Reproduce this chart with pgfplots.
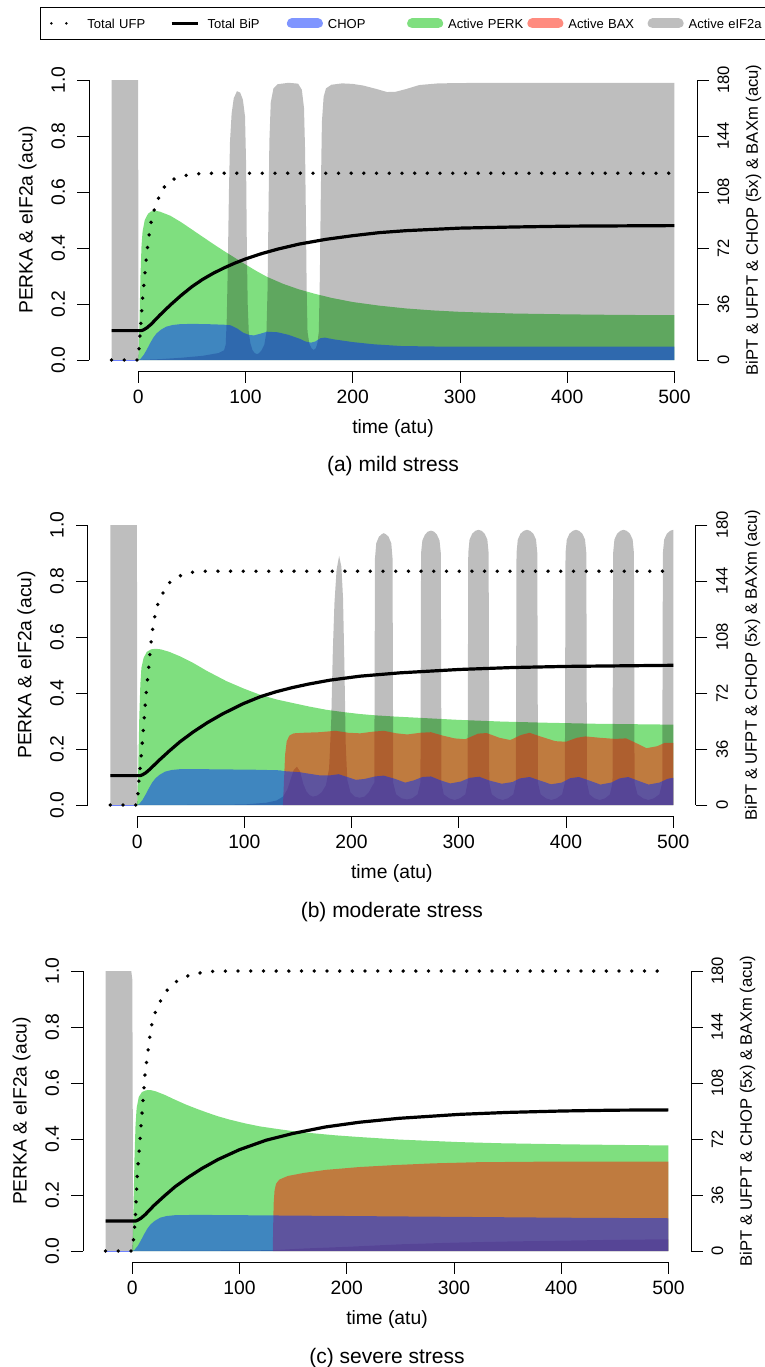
\documentclass[border=0pt]{standalone}
\usepackage{fontspec}
\setmainfont{Liberation Sans}
\usepackage{pgfplots}
\pgfplotsset{compat=1.18}
\definecolor{cperk}{RGB}{0,192,0}
\definecolor{cchop}{RGB}{0,45,255}
\definecolor{cbax}{RGB}{255,25,0}
\definecolor{czero}{RGB}{110,130,255}
\newcommand\tickfont{\fontsize{19.3}{23}\selectfont}
\newcommand\smallfont{\fontsize{16.6}{20}\selectfont}
\newcommand\capfont{\fontsize{21}{25}\selectfont}
\newcommand\legfont{\fontsize{13}{15}\selectfont}

\pgfplotsset{
  rleft/.style={
    scale only axis, width=608pt, height=302.4pt,
    xmin=-46, xmax=521, ymin=-0.04, ymax=1.04,
    axis x line*=bottom, axis y line*=left, axis line style={draw=none},
    clip=false, no marks,
    tick align=outside, major tick length=11.5pt,
    tick style={black, line width=0.9pt},
    xtick={0,100,200,300,400,500}, xticklabels={0,100,200,300,400,500},
    ytick={0,0.2,0.4,0.6,0.8,1}, yticklabels={0.0,0.2,0.4,0.6,0.8,1.0},
    tick label style={font=\tickfont, inner sep=0pt},
    xticklabel style={anchor=north, yshift=-6.7pt},
    yticklabel style={xshift=-12.3pt, rotate=90, anchor=south},
    xlabel={time (atu)}, ylabel={PERKA \& eIF2a (acu)},
    label style={font=\tickfont, inner sep=0pt},
    xlabel style={at={(axis description cs:0.5,-0.2044)}, anchor=base},
    ylabel style={at={(axis description cs:-0.0929,0.5)}, anchor=base},
  },
  rright/.style={
    scale only axis, width=608pt, height=302.4pt,
    xmin=-46, xmax=521, ymin=-7.2, ymax=187.2,
    axis x line=none, axis y line*=right, axis line style={draw=none},
    clip=false, no marks,
    tick align=outside, major tick length=11.5pt,
    tick style={black, line width=0.9pt},
    ytick={0,36,72,108,144,180}, yticklabels={0,36,72,108,144,180},
    yticklabel style={font=\smallfont, inner sep=0pt, xshift=8.7pt, rotate=90, anchor=north},
    ylabel={BiPT \& UFPT \& CHOP (5x) \& BAXm (acu)},
    ylabel style={font=\smallfont, inner sep=0pt, at={(axis description cs:1.1003,0.5)}, anchor=base},
  },
  perk/.style={draw=none, fill=cperk, fill opacity=0.5},
  eif/.style={draw=none, fill=black, fill opacity=0.255},
  bax/.style={draw=none, fill=cbax, fill opacity=0.5},
  chop/.style={draw=none, fill=cchop, fill opacity=0.5},
  ufp/.style={black, line width=3.8pt, line cap=round, dash pattern=on 0pt off 12.7pt},
  bip/.style={black, line width=3.2pt},
  zline/.style={czero, line width=1pt},
}

\begin{document}
\begin{tikzpicture}
\useasboundingbox (0,0) rectangle (765pt,-1367pt);
\clip (0,0) rectangle (765pt,-1367pt);

% ---------------- (a) mild stress ----------------
\begin{axis}[rleft, at={(89pt,-371.2pt)}, anchor=south west,
  legend columns=6,
  legend style={at={(axis description cs:-0.0806,1.2044)}, anchor=north west,
    draw=black, line width=0.8pt, inner xsep=6pt, inner ysep=11pt,
    cells={anchor=west},
    nodes={inner sep=0pt, text width=79.25pt, text height=9.4pt, text depth=0pt, font=\legfont}}]
\addlegendimage{legend image code/.code={\path[draw=none,fill=none] (-5pt,-5pt) rectangle (36pt,5pt);
  \draw[black, line width=2.8pt, line cap=round, dash pattern=on 0pt off 15pt] (0pt,0pt) -- (26pt,0pt);}}
\addlegendimage{legend image code/.code={\path[draw=none,fill=none] (-5pt,-5pt) rectangle (36pt,5pt);
  \draw[black, line width=3pt] (0pt,0pt) -- (26pt,0pt);}}
\addlegendimage{legend image code/.code={\path[draw=none,fill=none] (-5pt,-5pt) rectangle (36pt,5pt);
  \draw[cchop, draw opacity=0.5, line width=10pt, line cap=round] (0pt,0pt) -- (26pt,0pt);}}
\addlegendimage{legend image code/.code={\path[draw=none,fill=none] (-5pt,-5pt) rectangle (36pt,5pt);
  \draw[cperk, draw opacity=0.5, line width=10pt, line cap=round] (0pt,0pt) -- (26pt,0pt);}}
\addlegendimage{legend image code/.code={\path[draw=none,fill=none] (-5pt,-5pt) rectangle (36pt,5pt);
  \draw[cbax, draw opacity=0.5, line width=10pt, line cap=round] (0pt,0pt) -- (26pt,0pt);}}
\addlegendimage{legend image code/.code={\path[draw=none,fill=none] (-5pt,-5pt) rectangle (36pt,5pt);
  \draw[black, draw opacity=0.255, line width=10pt, line cap=round] (0pt,0pt) -- (26pt,0pt);}}
\legend{Total UFP,Total BiP,CHOP,Active PERK,Active BAX,Active eIF2a}

% Active PERK
\addplot[perk] coordinates {(-25,0) (0,0) (1,0.12) (2,0.30) (3,0.41) (4,0.46) (6,0.50) (9,0.522) (12,0.531) (16,0.533) (20,0.530) (30,0.515) (40,0.492) (50,0.466) (60,0.440) (70,0.414) (80,0.389) (90,0.365) (100,0.341) (110,0.318) (120,0.297) (135,0.272) (150,0.252) (165,0.236) (180,0.222) (200,0.207) (225,0.194) (250,0.184) (275,0.177) (300,0.172) (350,0.166) (400,0.163) (450,0.161) (500,0.160) (500,0)} \closedcycle;
% Active eIF2a
\addplot[eif] coordinates {(-25,0) (-25,1) (-0.2,1) (0.2,0) (5,0.001) (20,0.003) (40,0.008) (60,0.015) (75,0.025) (80,0.035) (81.5,0.055) (82.5,0.15) (83.5,0.35) (84.5,0.6) (85.5,0.78) (87,0.88) (89,0.935) (92,0.96) (95,0.955) (97.5,0.93) (99.5,0.87) (100.5,0.7) (101.2,0.4) (102,0.2) (103,0.1) (104.5,0.06) (106.5,0.035) (108.5,0.025) (110.5,0.021) (112.5,0.024) (115,0.035) (117.5,0.055) (119.5,0.1) (120.5,0.25) (121.3,0.5) (122.2,0.78) (123.5,0.92) (126,0.97) (130,0.985) (140,0.99) (149,0.987) (152.5,0.965) (154.5,0.9) (155.5,0.75) (156.3,0.5) (157,0.25) (157.8,0.1) (159.5,0.058) (161.5,0.042) (163.5,0.036) (165.5,0.042) (167,0.06) (168.3,0.1) (169.3,0.3) (170.2,0.6) (171.2,0.85) (172.8,0.94) (175,0.97) (180,0.983) (190,0.988) (200,0.986) (210,0.98) (222,0.968) (232,0.957) (240,0.958) (250,0.968) (262,0.982) (280,0.988) (320,0.99) (500,0.99) (500,0)} \closedcycle;
% CHOP
\addplot[chop] coordinates {(-25,0) (0,0) (2,0.004) (5,0.018) (8,0.038) (11,0.06) (14,0.08) (17,0.095) (21,0.108) (26,0.119) (32,0.125) (39,0.128) (50,0.129) (65,0.128) (80,0.126) (86,0.124) (92,0.113) (98,0.097) (104,0.089) (108,0.088) (114,0.094) (120,0.101) (130,0.099) (140,0.09) (151,0.075) (156,0.066) (161,0.062) (165,0.066) (170,0.078) (174,0.08) (182,0.074) (200,0.064) (220,0.056) (245,0.050) (280,0.048) (350,0.048) (500,0.048) (500,0)} \closedcycle;
\addplot[zline] coordinates {(-25,0) (0,0)};
% Total UFP
\addplot[ufp] coordinates {(-25,0) (0,0) (1,0.06) (2,0.11) (4,0.22) (7,0.345) (9,0.42) (11.5,0.486) (14,0.527) (18,0.571) (23,0.613) (31,0.643) (42,0.658) (55,0.665) (70,0.667) (500,0.667)};
% Total BiP
\addplot[bip] coordinates {(-25,0.105) (3,0.105) (5,0.108) (8,0.115) (12,0.128) (20,0.16) (30,0.197) (40,0.231) (50,0.262) (60,0.288) (70,0.31) (80,0.329) (90,0.346) (100,0.361) (115,0.38) (130,0.396) (150,0.414) (175,0.431) (200,0.444) (225,0.455) (250,0.462) (300,0.471) (350,0.475) (400,0.478) (450,0.479) (500,0.48)};
\draw[line width=0.9pt] (axis cs:0,-0.04) -- (axis cs:500,-0.04);
\draw[line width=0.9pt] (axis cs:-46,0) -- (axis cs:-46,1);
\node[font=\capfont, anchor=base] at (axis description cs:0.5,-0.3333) {(a) mild stress};
\end{axis}
\begin{axis}[rright, at={(89pt,-371.2pt)}, anchor=south west]
\addplot[draw=none] coordinates {(0,0)};
\draw[line width=0.9pt] (axis cs:521,0) -- (axis cs:521,180);
\end{axis}

% ---------------- (b) moderate stress ----------------
\begin{axis}[rleft, at={(87.8pt,-816.2pt)}, anchor=south west]
\addplot[perk] coordinates {(-25,0) (0,0) (1,0.12) (2,0.31) (3,0.43) (4,0.49) (6,0.525) (9,0.547) (13,0.556) (17,0.558) (22,0.556) (30,0.547) (40,0.531) (52,0.508) (65,0.479) (83.5,0.442) (100,0.415) (114.5,0.394) (130,0.377) (145.5,0.364) (160,0.352) (176.6,0.340) (192,0.332) (207.6,0.325) (223,0.320) (240,0.316) (270,0.310) (300,0.304) (340,0.298) (380,0.294) (430,0.290) (500,0.287) (500,0)} \closedcycle;
\addplot[eif] coordinates {(-25,0) (-25,1) (-0.2,1) (0.2,0) (100,0.002) (120,0.008) (130,0.016) (136,0.03) (140,0.055) (143,0.09) (146,0.125) (149,0.137) (152,0.12) (155,0.075) (158,0.048) (161,0.035) (164,0.03) (168,0.034) (172,0.045) (176,0.07) (179,0.13) (181,0.3) (182.5,0.55) (184,0.72) (186,0.84) (188.4,0.89) (190.5,0.85) (192,0.74) (193.3,0.5) (194.5,0.22) (196,0.09) (199,0.045) (203,0.03) (207.5,0.026) (212,0.03) (216,0.045) (219.5,0.07)
 (221.2,0.08) (221.5,0.5) (221.8,0.88) (223,0.935) (225.5,0.958) (228,0.967) (230,0.971) (232,0.967) (234.5,0.958) (237,0.935) (238.2,0.88) (238.5,0.5) (238.8,0.08)
 (241.5,0.038) (246.5,0.024) (251.5,0.02) (256.5,0.024) (261.5,0.038)
 (264.2,0.08) (264.5,0.5) (264.8,0.9) (266,0.945) (268.5,0.966) (271,0.976) (274,0.98) (277,0.976) (279.5,0.966) (282,0.945) (283.2,0.9) (283.5,0.5) (283.8,0.08)
 (286,0.038) (291,0.024) (296,0.018) (301,0.024) (306,0.038)
 (308.2,0.08) (308.5,0.5) (308.8,0.9) (310,0.948) (312.5,0.969) (315.3,0.979) (318.3,0.983) (321.3,0.979) (324.1,0.969) (326.6,0.948) (327.8,0.9) (328.1,0.5) (328.4,0.08)
 (330.8,0.038) (335.8,0.024) (340.8,0.018) (345.8,0.024) (350.8,0.038)
 (353.2,0.08) (353.5,0.5) (353.8,0.9) (355,0.948) (357.5,0.969) (360.5,0.979) (363.5,0.983) (366.5,0.979) (369.5,0.969) (372,0.948) (373.2,0.9) (373.5,0.5) (373.8,0.08)
 (376.3,0.038) (381.3,0.024) (386.3,0.018) (391.3,0.024) (396.3,0.038)
 (398.9,0.08) (399.2,0.5) (399.5,0.9) (400.7,0.948) (403.2,0.969) (406.2,0.979) (409.2,0.983) (412.2,0.979) (415.2,0.969) (417.7,0.948) (418.9,0.9) (419.2,0.5) (419.5,0.08)
 (421.9,0.038) (426.4,0.024) (431.4,0.018) (436.4,0.024) (440.9,0.038)
 (443.3,0.08) (443.6,0.5) (443.9,0.9) (445.1,0.948) (447.6,0.969) (450.6,0.979) (453.6,0.983) (456.6,0.979) (459.6,0.969) (462.1,0.948) (463.3,0.9) (463.6,0.5) (463.9,0.08)
 (466.6,0.038) (471.8,0.024) (476.8,0.018) (481.8,0.024) (487,0.038)
 (489.7,0.08) (490,0.5) (490.3,0.9) (491.5,0.948) (494,0.969) (497,0.979) (500,0.983) (500,0)} \closedcycle;
\addplot[bax] coordinates {(136,0) (137,0.09) (138,0.18) (139.5,0.228) (142,0.248) (146,0.256) (155,0.258) (170,0.26) (185,0.265) (197,0.258) (208,0.256) (220,0.262) (230,0.265) (242,0.256) (252,0.252) (264,0.258) (274,0.26) (285,0.248) (296,0.238) (306,0.235) (318,0.255) (326,0.257) (338,0.24) (348,0.232) (358,0.25) (366,0.258) (376,0.245) (390,0.228) (400,0.226) (410,0.24) (418,0.245) (432,0.24) (446,0.236) (456,0.238) (466,0.22) (475,0.203) (485,0.21) (492,0.222) (500,0.222) (500,0)} \closedcycle;
\addplot[chop] coordinates {(-25,0) (0,0) (2,0.004) (5,0.018) (8,0.038) (11,0.06) (14,0.08) (17,0.095) (21,0.108) (26,0.119) (32,0.125) (40,0.128) (60,0.128) (85,0.127) (110,0.126) (133,0.124) (137,0.121) (145,0.119) (152,0.117) (160,0.112) (170,0.106) (180,0.106) (188,0.11) (196,0.1) (204,0.09) (212,0.093) (222,0.102) (230,0.105) (240,0.094) (250,0.08) (258,0.088) (266,0.1) (274,0.102) (283,0.088) (292,0.077) (302,0.084) (310,0.097) (319,0.101) (328,0.088) (340,0.076) (350,0.082) (357,0.095) (366,0.1) (376,0.087) (386,0.074) (396,0.08) (404,0.096) (412,0.1) (422,0.087) (432,0.073) (442,0.08) (450,0.095) (458,0.1) (467,0.087) (477,0.073) (487,0.08) (495,0.094) (500,0.097) (500,0)} \closedcycle;
\addplot[zline] coordinates {(-25,0) (0,0)};
\addplot[ufp] coordinates {(-25,0) (0,0) (0.5,0.03) (2,0.10) (4.4,0.203) (6.5,0.305) (8.4,0.40) (10.6,0.484) (12.7,0.573) (15,0.645) (18.3,0.708) (23,0.749) (28.2,0.788) (37.5,0.815) (48.7,0.83) (60,0.835) (500,0.835)};
\addplot[bip] coordinates {(-25,0.105) (3,0.105) (5,0.108) (8,0.115) (12,0.128) (20,0.158) (30,0.193) (40,0.226) (52,0.26) (65,0.293) (80,0.326) (99,0.362) (115,0.387) (130,0.405) (145.5,0.42) (160,0.432) (180,0.446) (207.6,0.46) (245,0.472) (300,0.484) (350,0.491) (400,0.495) (450,0.497) (500,0.499)};
\draw[line width=0.9pt] (axis cs:0,-0.04) -- (axis cs:500,-0.04);
\draw[line width=0.9pt] (axis cs:-46,0) -- (axis cs:-46,1);
\node[font=\capfont, anchor=base] at (axis description cs:0.5,-0.3333) {(b) moderate stress};
\end{axis}
\begin{axis}[rright, at={(87.8pt,-816.2pt)}, anchor=south west]
\addplot[draw=none] coordinates {(0,0)};
\draw[line width=0.9pt] (axis cs:521,0) -- (axis cs:521,180);
\end{axis}

% ---------------- (c) severe stress ----------------
\begin{axis}[rleft, at={(83pt,-1262.2pt)}, anchor=south west]
\addplot[perk] coordinates {(-25,0) (0,0) (1,0.13) (2,0.33) (3,0.45) (4,0.51) (6,0.55) (9,0.568) (13,0.574) (17,0.575) (22,0.570) (30,0.558) (40,0.540) (50,0.523) (60,0.508) (70,0.494) (80,0.481) (90,0.470) (105,0.456) (119,0.445) (135,0.436) (150,0.428) (170,0.420) (190,0.413) (212,0.407) (249,0.398) (280,0.393) (305,0.389) (342,0.385) (404,0.381) (450,0.379) (500,0.377) (500,0)} \closedcycle;
\addplot[eif] coordinates {(-25,0) (-25,1) (-1,1) (0,0.97) (0.4,0.5) (0.8,0) (5,0) (131,0.003) (160,0.009) (200,0.015) (250,0.024) (300,0.030) (350,0.034) (400,0.037) (450,0.04) (500,0.042) (500,0)} \closedcycle;
\addplot[bax] coordinates {(131,0) (131.3,0.08) (131.8,0.17) (132.6,0.215) (134,0.24) (137,0.255) (145,0.268) (160,0.279) (181,0.29) (212,0.30) (245,0.307) (280,0.313) (320,0.317) (380,0.319) (500,0.319) (500,0)} \closedcycle;
\addplot[chop] coordinates {(-25,0) (0,0) (2,0.004) (5,0.018) (8,0.038) (11,0.06) (14,0.08) (17,0.095) (21,0.108) (26,0.119) (32,0.125) (40,0.128) (60,0.129) (100,0.128) (131,0.127) (200,0.125) (300,0.122) (400,0.119) (500,0.117) (500,0)} \closedcycle;
\addplot[zline] coordinates {(-25,0) (0,0)};
\addplot[ufp] coordinates {(-25,0) (0,0) (1,0.04) (2.5,0.10) (3.4,0.164) (4.7,0.278) (6.2,0.349) (8.7,0.475) (10.2,0.551) (11.8,0.629) (14,0.694) (15.9,0.754) (18,0.807) (21.1,0.849) (25.8,0.89) (32.6,0.932) (41.9,0.965) (53.7,0.986) (70,0.998) (90,1.0) (500,1.0)};
\addplot[bip] coordinates {(-25,0.107) (3,0.107) (5,0.11) (8,0.117) (12,0.13) (20,0.162) (30,0.197) (40,0.23) (52,0.263) (65,0.295) (80,0.327) (100,0.362) (125,0.396) (150,0.42) (180,0.443) (212,0.46) (249,0.474) (305,0.488) (350,0.495) (400,0.5) (450,0.503) (500,0.504)};
\draw[line width=0.9pt] (axis cs:0,-0.04) -- (axis cs:500,-0.04);
\draw[line width=0.9pt] (axis cs:-46,0) -- (axis cs:-46,1);
\node[font=\capfont, anchor=base] at (axis description cs:0.5,-0.3333) {(c) severe stress};
\end{axis}
\begin{axis}[rright, at={(83pt,-1262.2pt)}, anchor=south west]
\addplot[draw=none] coordinates {(0,0)};
\draw[line width=0.9pt] (axis cs:521,0) -- (axis cs:521,180);
\end{axis}
\end{tikzpicture}
\end{document}
